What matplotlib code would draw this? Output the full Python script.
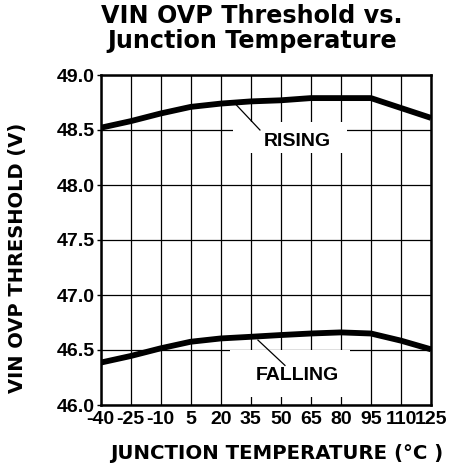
import matplotlib
matplotlib.use("Agg")
import matplotlib.pyplot as plt
from matplotlib.patches import Rectangle

temps = [-40, -25, -10, 5, 20, 35, 50, 65, 80, 95, 110, 125]
rising = [48.52, 48.58, 48.65, 48.71, 48.74, 48.76, 48.77, 48.79, 48.79, 48.79, 48.70, 48.61]
falling = [46.385, 46.445, 46.515, 46.575, 46.605, 46.62, 46.636, 46.65, 46.66, 46.65, 46.585, 46.506]
xticks = [-40, -25, -10, 5, 20, 35, 50, 65, 80, 95, 110, 125]
yticks = [46.0, 46.5, 47.0, 47.5, 48.0, 48.5, 49.0]

plt.rcParams['font.family'] = ['Liberation Sans', 'DejaVu Sans']
plt.rcParams['font.weight'] = 'bold'
wide = ['DejaVu Sans']

W, H = 453, 470
fig = plt.figure(figsize=(W / 100, H / 100), dpi=100)
ax = fig.add_axes([100.5 / W, 1 - 405 / H, 330.5 / W, 330 / H])

ax.set_xlim(-40, 125)
ax.set_ylim(46.0, 49.0)
ax.set_xticks(xticks)
ax.set_yticks(yticks)
ax.set_xticklabels([str(t) for t in xticks], fontsize=14, fontweight='bold')
ax.set_yticklabels([f"{v:.1f}" for v in yticks], fontsize=14, fontweight='bold')
ax.tick_params(axis='x', length=0, pad=4)
ax.tick_params(axis='y', length=3, width=1, pad=1, direction='out')

ax.grid(True, color='black', linewidth=0.9)
ax.set_axisbelow(True)
for s in ax.spines.values():
    s.set_linewidth(1.8)

# white boxes that interrupt the grid behind labels
ax.add_patch(Rectangle((26.1, 48.29), 57.0, 0.283, facecolor='white', edgecolor='none', zorder=1.5))
ax.add_patch(Rectangle((24.6, 46.075), 60.0, 0.425, facecolor='white', edgecolor='none', zorder=1.5))

ax.plot(temps, rising, color='black', linewidth=4.2, zorder=3, solid_capstyle='butt')
ax.plot(temps, falling, color='black', linewidth=4.2, zorder=3, solid_capstyle='butt')

ax.plot([26.3, 39.6], [48.757, 48.5], color='black', linewidth=0.9, zorder=2.5)
ax.plot([38.6, 52.1], [46.59, 46.36], color='black', linewidth=0.9, zorder=2.5)
ax.text(58.3, 48.40, "RISING", fontsize=14, fontweight='bold', ha='center', va='center', zorder=4)
ax.text(58.3, 46.27, "FALLING", fontsize=14, fontweight='bold', ha='center', va='center', zorder=4)

ax.set_xlabel("JUNCTION TEMPERATURE (°C )", fontsize=14.2, fontweight='bold', family=wide)
ax.set_ylabel("VIN OVP THRESHOLD (V)", fontsize=14, fontweight='bold', family=wide)
ax.xaxis.set_label_coords((276.5 - 100.5) / 330.5, (405 - 444) / 330)
ax.yaxis.set_label_coords((27 - 100.5) / 330.5, (405 - 257.5) / 330)

fig.text(252 / W, 1 - 23 / H, "VIN OVP Threshold vs.", fontsize=17.2, fontweight='bold',
         ha='center', va='baseline', family=wide)
fig.text(252 / W, 1 - 48 / H, "Junction Temperature", fontsize=17.2, fontweight='bold',
         ha='center', va='baseline', family=wide)

fig.savefig("out.png", dpi=100, facecolor='white')
